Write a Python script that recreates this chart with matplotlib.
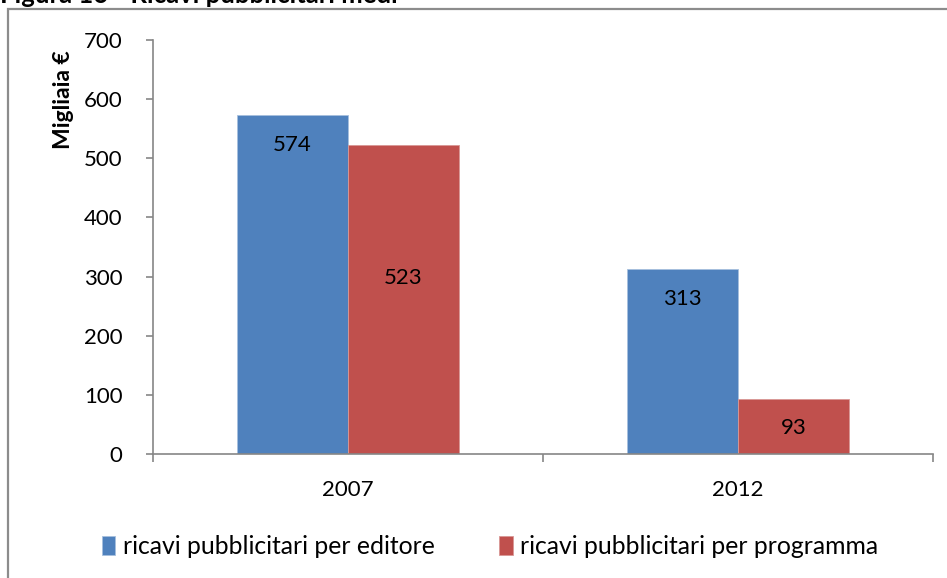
import numpy as np
import matplotlib.pyplot as plt
from matplotlib.patches import Rectangle

# data
years = ['2007', '2012']
editore = [574, 313]
programma = [523, 93]
series_names = ['ricavi pubblicitari per editore', 'ricavi pubblicitari per programma']
yticks = [0, 100, 200, 300, 400, 500, 600, 700]

blue = '#4F81BD'
red = '#C0504D'
gray = '#868686'

plt.rcParams['font.family'] = ['Lato', 'DejaVu Sans']

W, H = 947, 578
fig = plt.figure(figsize=(W / 100, H / 100), dpi=100)

# outer frame of the chart
fig.patches.append(Rectangle((8 / W, -0.01), 1.01 - 8 / W, (H - 9) / H + 0.01,
                             transform=fig.transFigure, fill=False,
                             edgecolor='#8C8C8C', lw=1.6))

# title, cut off at the top
fig.text(0 / W, 1 - 3 / H, 'Figura 16 - Ricavi pubblicitari medi',
         fontsize=18.5, fontweight='bold', va='baseline', ha='left')

ax = fig.add_axes([153 / W, 1 - 454 / H, (933 - 153) / W, (454 - 40) / H])

x = np.arange(len(years))
bw = 0.285
b1 = ax.bar(x - bw / 2, editore, bw, color=blue, label=series_names[0],
            edgecolor='#A7C0DE', linewidth=0.6)
b2 = ax.bar(x + bw / 2, programma, bw, color=red, label=series_names[1],
            edgecolor='#D99795', linewidth=0.6)

# value labels, inside end of each bar
for xi, v in zip(x - bw / 2, editore):
    ax.text(xi, v - 51, str(v), ha='center', va='center', fontsize=16)
for i, (xi, v) in enumerate(zip(x + bw / 2, programma)):
    yl = 298 if i == 0 else v - 49
    ax.text(xi, yl, str(v), ha='center', va='center', fontsize=16)

ax.set_xlim(-0.5, 1.5)
ax.set_ylim(0, 700)
ax.set_yticks(yticks)
ax.tick_params(axis='y', length=5, width=1.2, color=gray, pad=17, labelsize=16)

# category boundaries as major ticks, labels on minor ticks
ax.set_xticks([-0.5, 0.5, 1.5])
ax.set_xticklabels([])
ax.set_xticks(x, minor=True)
ax.set_xticklabels(years, minor=True)
ax.tick_params(axis='x', which='major', length=6, width=1.2, color=gray)
ax.tick_params(axis='x', which='minor', length=0, pad=19, labelsize=16)

for s in ['top', 'right']:
    ax.spines[s].set_visible(False)
for s in ['left', 'bottom']:
    ax.spines[s].set_color(gray)
    ax.spines[s].set_linewidth(1.2)

fig.text(63 / W, 1 - 100 / H, 'Migliaia €', rotation=90, fontsize=16.5,
         fontweight='bold', ha='center', va='center')

fig.legend(handles=[b1, b2], loc='center', bbox_to_anchor=(490 / W, 1 - 547 / H),
           ncol=2, frameon=False, fontsize=17.8, handlelength=0.55, handleheight=0.8,
           handletextpad=0.3, columnspacing=2.6)

fig.savefig('out.png', dpi=100)
